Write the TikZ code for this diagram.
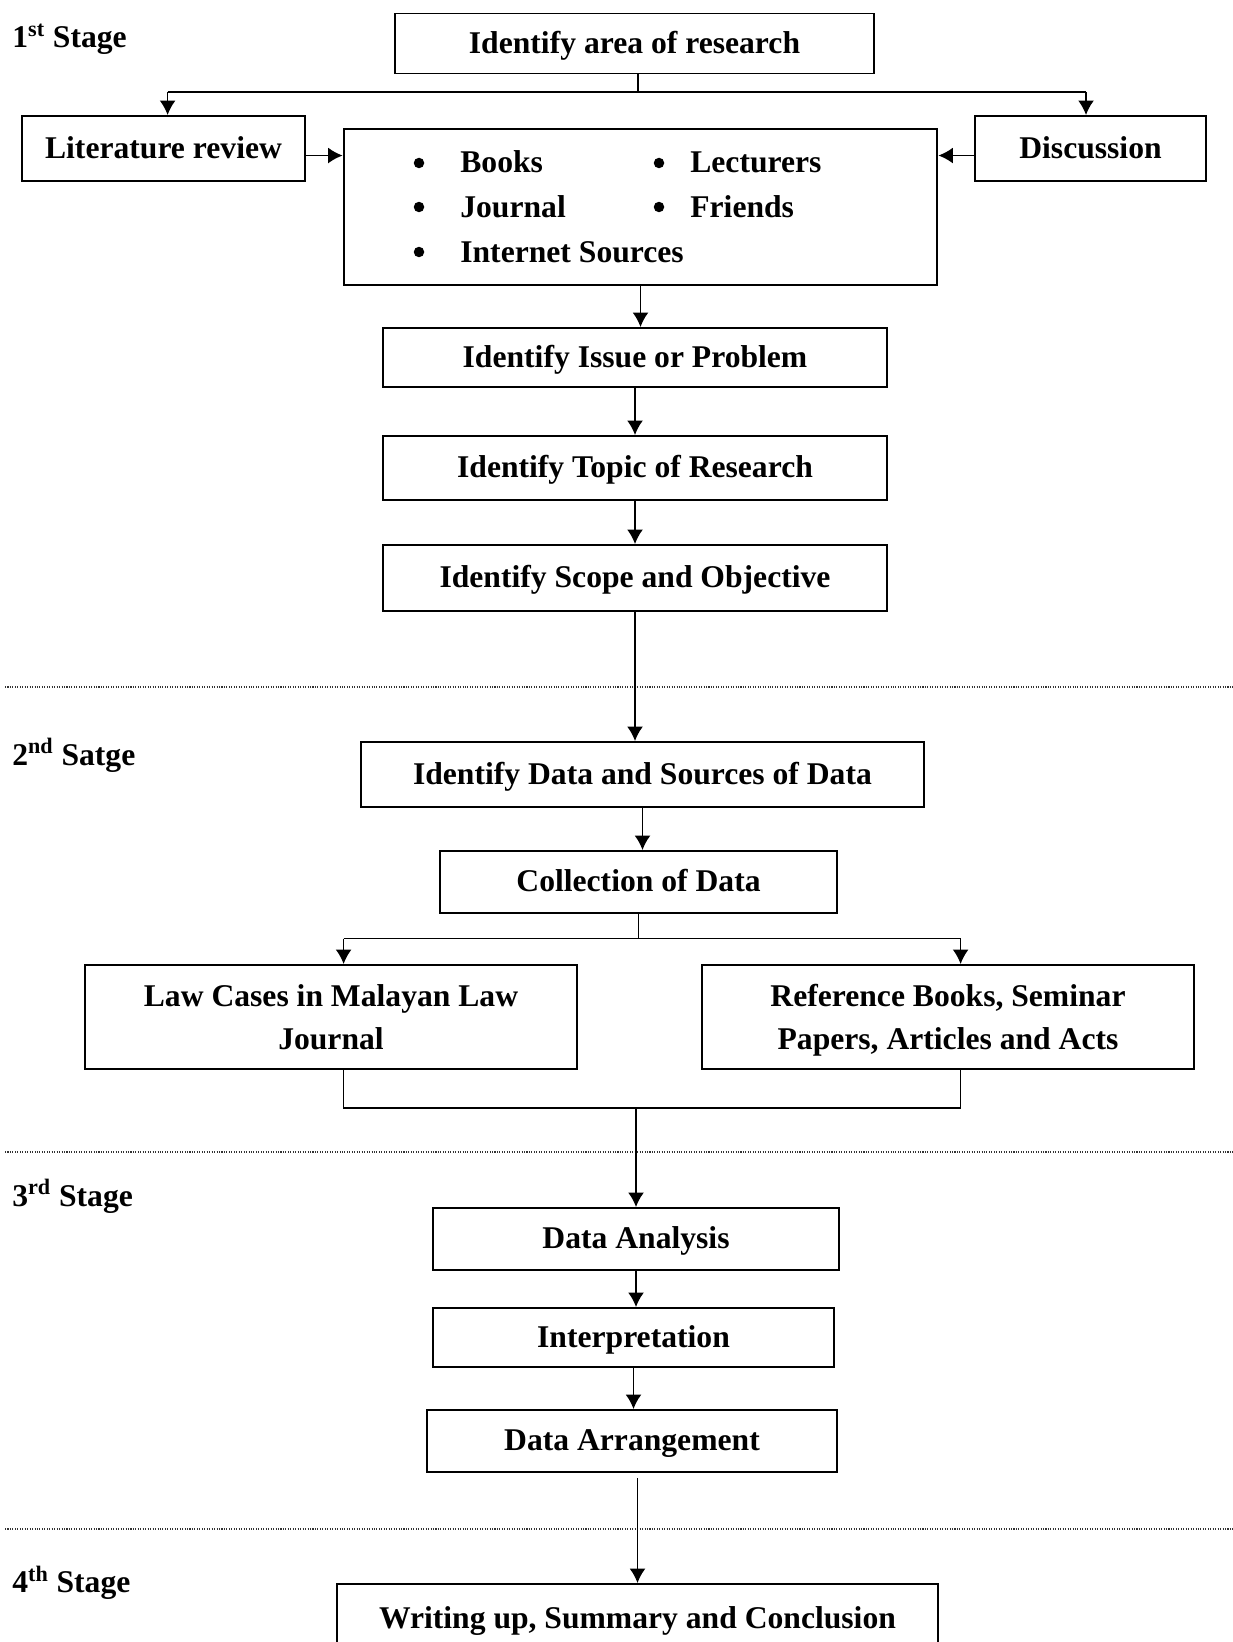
\documentclass[tikz,border=0pt]{standalone}
\usepackage{fontspec}
\setmainfont{Liberation Serif}
\usetikzlibrary{arrows.meta}

\tikzset{
  box/.style={draw, line width=1.1pt, inner sep=0pt, align=center,
    font=\fontsize{18}{24.5}\selectfont\bfseries},
  onebox/.style={box, text height=14pt, text depth=3pt},
  twobox/.style={box, text depth=0pt},
  item/.style={inner sep=0pt, anchor=base west,
    font=\fontsize{18}{24.5}\selectfont\bfseries},
  dot/.style={circle, fill, inner sep=0pt, minimum size=0.21cm},
  stagelbl/.style={inner sep=0pt, anchor=base west,
    font=\fontsize{18}{24.5}\selectfont\bfseries},
  arr/.style={line width=1pt, -{Latex[length=2.9mm,width=3.2mm]}},
  link/.style={line width=1pt},
  sep/.style={line width=0.6pt, dash pattern=on 0.6pt off 0.8pt, black!80},
}

\begin{document}
\begin{tikzpicture}[x=0.02cm, y=-0.02cm]
  \useasboundingbox (0,0) rectangle (1233,1642);

  % stage labels and separators
  \node[stagelbl] (stage1) at (12,48) {1\textsuperscript{st} Stage};
  \node[stagelbl] (stage2) at (12,765) {2\textsuperscript{nd} Satge};
  \node[stagelbl] (stage3) at (12,1206) {3\textsuperscript{rd} Stage};
  \node[stagelbl] (stage4) at (12,1592) {4\textsuperscript{th} Stage};
  \draw[sep] (5,687) -- (1233,687);
  \draw[sep] (5,1152) -- (1233,1152);
  \draw[sep] (5,1529) -- (1233,1529);

  % 1st stage
  \node[onebox, minimum width=9.58cm, minimum height=1.2cm] (area) at (634.5,43.5) {Identify area of research};
  \node[onebox, minimum width=5.66cm, minimum height=1.3cm] (lit) at (163.5,148.5) {Literature review};
  \node[onebox, minimum width=4.62cm, minimum height=1.3cm] (disc) at (1090.5,148.5) {Discussion};
  \node[box, minimum width=11.88cm, minimum height=3.12cm] (src) at (640.5,207) {};
  \foreach \i/\x/\tx/\y/\txt in {1/419/460/173/Books, 2/419/460/217/Journal, 3/419/460/262/Internet Sources,
                                 4/659/690/173/Lecturers, 5/659/690/217/Friends} {
    \node[dot] (dot\i) at (\x,\y-10) {};
    \node[item] (itm\i) at (\tx,\y) {\txt};
  }
  \node[onebox, minimum width=10.08cm, minimum height=1.18cm] (issue) at (635,357.5) {Identify Issue or Problem};
  \node[onebox, minimum width=10.08cm, minimum height=1.28cm] (topic) at (635,468) {Identify Topic of Research};
  \node[onebox, minimum width=10.08cm, minimum height=1.32cm] (scope) at (635,578) {Identify Scope and Objective};

  \coordinate (split1) at (638,92);
  \coordinate (split1L) at (167.6,92);
  \coordinate (split1R) at (1086,92);
  \draw[link] (area.south -| split1) -- (split1);
  \draw[link] (split1L) -- (split1R);
  \draw[arr] (split1L) -- (split1L |- lit.north);
  \draw[arr] (split1R) -- (split1R |- disc.north);
  \draw[arr] ([yshift=-4pt]lit.east) -- ([yshift=-4pt]lit.east -| src.west);
  \draw[arr] ([yshift=-4pt]disc.west) -- ([yshift=-4pt]disc.west -| src.east);
  \draw[arr] (src.south) -- (src.south |- issue.north);
  \draw[arr] (issue) -- (topic);
  \draw[arr] (topic) -- (scope);

  % 2nd stage
  \node[onebox, minimum width=11.26cm, minimum height=1.3cm] (datasrc) at (642.5,774.5) {Identify Data and Sources of Data};
  \node[onebox, minimum width=7.94cm, minimum height=1.24cm] (coll) at (638.5,882) {Collection of Data};
  \node[twobox, minimum width=9.84cm, minimum height=2.08cm] (law) at (331,1017) {Law Cases in Malayan Law\\Journal};
  \node[twobox, minimum width=9.84cm, minimum height=2.08cm] (ref) at (948,1017) {Reference Books, Seminar\\Papers, Articles and Acts};

  \draw[arr] (scope.south) -- (scope.south |- datasrc.north);
  \draw[arr] (datasrc.south) -- (datasrc.south |- coll.north);
  \coordinate (split2L) at (343.6,938.6);
  \coordinate (split2R) at (960.6,938.6);
  \draw[link] (coll.south) -- (coll.south |- split2L);
  \draw[link] (split2L) -- (split2R);
  \draw[arr] (split2L) -- (split2L |- law.north);
  \draw[arr] (split2R) -- (split2R |- ref.north);
  \coordinate (joinL) at (343.6,1108);
  \coordinate (joinR) at (960.6,1108);
  \draw[link] (joinL |- law.south) -- (joinL) -- (joinR) -- (joinR |- ref.south);

  % 3rd stage
  \node[onebox, minimum width=8.12cm, minimum height=1.24cm] (analysis) at (636,1239) {Data Analysis};
  \node[onebox, minimum width=8.02cm, minimum height=1.18cm] (interp) at (633.5,1337.5) {Interpretation};
  \node[onebox, minimum width=8.2cm, minimum height=1.24cm] (arrange) at (632,1441) {Data Arrangement};

  \draw[arr] (analysis |- joinL) -- (analysis.north);
  \draw[arr] (analysis.south) -- (analysis.south |- interp.north);
  \draw[arr] (interp.south) -- (interp.south |- arrange.north);

  % 4th stage
  \node[onebox, minimum width=12.02cm, minimum height=1.4cm] (write) at (637.5,1619) {Writing up, Summary and Conclusion};
  \draw[arr] ([yshift=-3pt]arrange.south -| write.north) -- (write.north);
\end{tikzpicture}
\end{document}
